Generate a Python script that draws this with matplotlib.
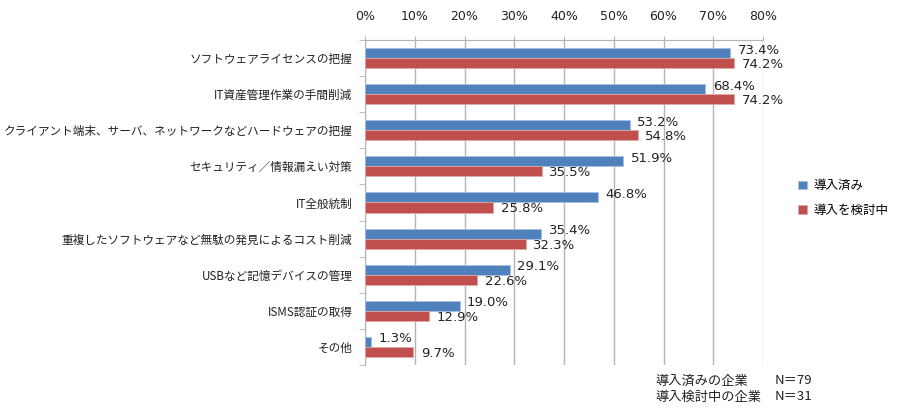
import matplotlib
matplotlib.use("Agg")
import matplotlib.pyplot as plt
import numpy as np

plt.rcParams['font.family'] = ['Noto Sans CJK JP', 'DejaVu Sans']

categories = [
    "ソフトウェアライセンスの把握",
    "IT資産管理作業の手間削減",
    "クライアント端末、サーバ、ネットワークなどハードウェアの把握",
    "セキュリティ／情報漏えい対策",
    "IT全般統制",
    "重複したソフトウェアなど無駄の発見によるコスト削減",
    "USBなど記憶デバイスの管理",
    "ISMS認証の取得",
    "その他",
]
introduced = [73.4, 68.4, 53.2, 51.9, 46.8, 35.4, 29.1, 19.0, 1.3]
considering = [74.2, 74.2, 54.8, 35.5, 25.8, 32.3, 22.6, 12.9, 9.7]
series_names = ["導入済み", "導入を検討中"]
xticks = [0, 10, 20, 30, 40, 50, 60, 70, 80]
note_labels = ["導入済みの企業", "導入検討中の企業"]
note_values = ["N＝79", "N＝31"]

blue = "#4F81BD"
red = "#C0504D"
grid_col = "#B4B4B4"

fig = plt.figure(figsize=(9, 4.12), dpi=100)
ax = fig.add_axes([365 / 900, 1 - 365 / 412, (763 - 365) / 900, (365 - 40) / 412])

y = np.arange(len(categories))
h = 0.28
ax.barh(y - h / 2, introduced, height=h, color=blue, edgecolor="#A7C0E0", linewidth=0.6,
        label=series_names[0], zorder=3)
ax.barh(y + h / 2, considering, height=h, color=red, edgecolor="#E0A8A6", linewidth=0.6,
        label=series_names[1], zorder=3)

# data labels just right of each bar end
for yi, v in zip(y, introduced):
    ax.text(v + 1.5, yi - h / 2 - 0.08, "%.1f%%" % v, va="center", ha="left",
            fontsize=9.5, color="#222222", family=["DejaVu Sans"], zorder=4)
for yi, v in zip(y, considering):
    ax.text(v + 1.5, yi + h / 2 + 0.04, "%.1f%%" % v, va="center", ha="left",
            fontsize=9.5, color="#222222", family=["DejaVu Sans"], zorder=4)

ax.set_xlim(0, 80)
ax.set_ylim(len(categories) - 0.5, -0.5)
ax.set_xticks(xticks)
ax.set_xticklabels(["%d%%" % t for t in xticks], family=["DejaVu Sans"], fontsize=9)
ax.xaxis.tick_top()
ax.tick_params(axis="x", which="both", length=3, color=grid_col, pad=9, labelcolor="#222222")
ax.grid(axis="x", color=grid_col, linewidth=1.0, zorder=0)

ax.set_yticks(y)
ax.set_yticklabels(categories, fontsize=8.4, color="#222222")
ax.set_yticks(np.arange(len(categories) + 1) - 0.5, minor=True)
ax.tick_params(axis="y", which="major", length=0, pad=9)
ax.tick_params(axis="y", which="minor", length=4, color=grid_col, direction="out")

for s in ["right", "bottom"]:
    ax.spines[s].set_visible(False)
ax.spines["left"].set_color(grid_col)
ax.spines["top"].set_color(grid_col)

ax.legend(loc="upper left", bbox_to_anchor=(787 / 900, 1 - 168 / 412),
          bbox_transform=fig.transFigure, frameon=False, fontsize=9,
          handlelength=0.7, handleheight=0.7, handletextpad=0.5, labelspacing=0.9)

for i, (lab, val) in enumerate(zip(note_labels, note_values)):
    ty = 1 - (381 + 16 * i) / 412
    fig.text(655 / 900, ty, lab, fontsize=9.5, va="center", ha="left", color="#222222")
    fig.text(775 / 900, ty, val, fontsize=9.5, va="center", ha="left", color="#222222")

fig.savefig("out.png", dpi=100)
